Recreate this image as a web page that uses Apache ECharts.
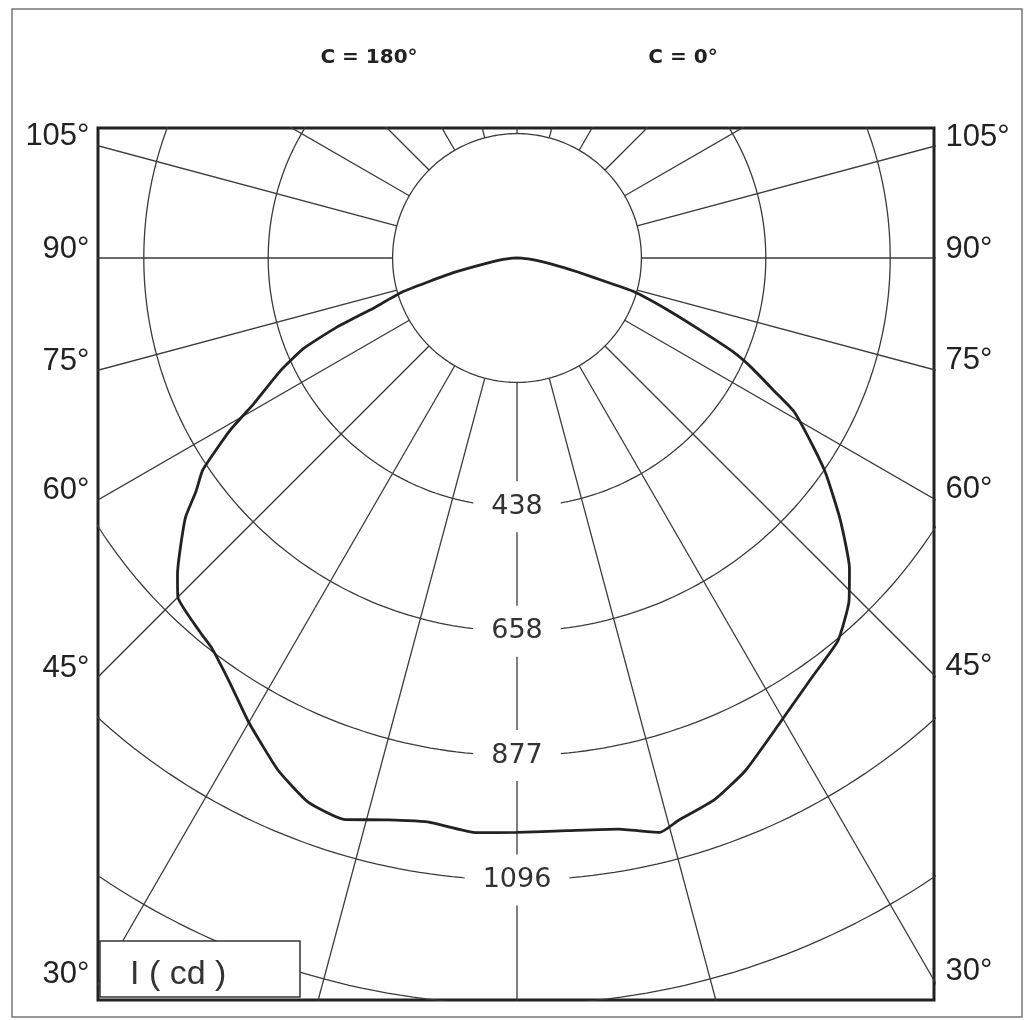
<!DOCTYPE html>
<html>
<head>
<meta charset="utf-8">
<script src="https://cdn.jsdelivr.net/npm/echarts@6/dist/echarts.min.js"></script>
<style>
  html, body { margin: 0; padding: 0; background: #fff; }
  #chart { width: 1027px; height: 1020px; }
</style>
</head>
<body>
<div id="chart"></div>
<script>
// intensity (cd) against gamma angle (deg from nadir)
const gammaC0 = [0, 5, 10, 14, 16, 20, 24, 29.5, 35, 40, 44, 47, 51, 55, 57.5, 61, 62.6, 65, 66.5, 68.5, 71, 74, 75, 77, 80, 84, 88, 90];
const intensityC0 = [1010, 1013, 1022, 1043, 1031, 1016, 989, 941, 904, 880, 842, 801, 733, 665, 619, 558, 512, 455, 416, 347, 280, 213, 165, 110, 62, 28, 8, 0];
const gammaC180 = [0, 4, 9, 13, 17, 21, 25, 30, 34, 38, 40, 45, 47, 49, 52, 54, 56, 59, 61, 64.5, 67, 69, 70.5, 73.5, 75, 77, 80, 84, 88, 90];
const intensityC180 = [1012, 1015, 1006, 1016, 1035, 1027, 996, 945, 904, 873, 865, 845, 818, 787, 741, 699, 668, 590, 531, 462, 409, 340, 275, 210, 160, 115, 55, 25, 8, 0];

const ringValues = [219.2, 438.4, 657.6, 876.8, 1096, 1315.2, 1534.4];
const ringLabels = ['438', '658', '877', '1096'];
const radialStep = 15;
const sideAngles = [105, 90, 75, 60, 45, 30];

const DEG = Math.PI / 180;
const grid = { left: 98, right: 93, top: 128, bottom: 20 };
const pxPerCd = 124.4 / 219.2;
const cx = 517, cy = 258;
const xMin = -(cx - grid.left) / pxPerCd;
const xMax = (1027 - grid.right - cx) / pxPerCd;
const yMax = (cy - grid.top) / pxPerCd;
const yMin = -(1020 - grid.bottom - cy) / pxPerCd;

const lineColor = '#3a3a3a';
const hidden = { color: 'rgba(0,0,0,0)', opacity: 1 };
const series = [];

// rings
ringValues.forEach(function (r) {
  const pts = [];
  for (let a = 0; a <= 360; a += 1) {
    pts.push([r * Math.sin(a * DEG), -r * Math.cos(a * DEG)]);
  }
  series.push({
    type: 'line', data: pts, showSymbol: false, silent: true,
    lineStyle: { color: lineColor, width: 1.3 }, z: 2
  });
});

// radial lines from the first ring outwards
for (let a = -180; a < 180; a += radialStep) {
  const r0 = ringValues[0], r1 = 2200;
  series.push({
    type: 'line', silent: true, showSymbol: false,
    data: [[r0 * Math.sin(a * DEG), -r0 * Math.cos(a * DEG)], [r1 * Math.sin(a * DEG), -r1 * Math.cos(a * DEG)]],
    lineStyle: { color: lineColor, width: 1.3 }, z: 2
  });
}

// intensity curve: C=180 on the left, C=0 on the right
const curve = [];
for (let i = gammaC180.length - 1; i >= 0; i--) {
  const g = gammaC180[i] * DEG;
  curve.push([-intensityC180[i] * Math.sin(g), -intensityC180[i] * Math.cos(g)]);
}
for (let i = 1; i < gammaC0.length; i++) {
  const g = gammaC0[i] * DEG;
  curve.push([intensityC0[i] * Math.sin(g), -intensityC0[i] * Math.cos(g)]);
}
series.push({
  type: 'line', data: curve, showSymbol: false, smooth: 0.15, silent: true,
  lineStyle: { color: '#222', width: 2.8 }, z: 5
});

// ring value labels on the nadir line
series.push({
  type: 'scatter', silent: true, symbolSize: 1, itemStyle: hidden,
  data: ringLabels.map(function (t, i) { return { value: [0, -ringValues[i + 1]], name: t }; }),
  label: {
    show: true, position: 'inside', formatter: '{b}',
    fontFamily: 'DejaVu Sans', fontSize: 27, color: '#333',
    backgroundColor: '#fff', padding: [12, 18]
  },
  z: 10
});

// angle labels where radial lines meet the frame
function sideData(edge) {
  return sideAngles.map(function (a) {
    return { value: [edge, -Math.abs(edge) / Math.tan(a * DEG)], name: a + '°' };
  });
}
const angleLabel = { show: true, formatter: '{b}', fontFamily: 'Liberation Sans', fontSize: 31, color: '#222', offset: [0, -9] };
series.push({
  type: 'scatter', silent: true, clip: false, symbolSize: 1, itemStyle: hidden,
  data: sideData(xMin),
  label: Object.assign({ position: 'left', distance: 8 }, angleLabel), z: 10
});
series.push({
  type: 'scatter', silent: true, clip: false, symbolSize: 1, itemStyle: hidden,
  data: sideData(xMax),
  label: Object.assign({ position: 'right', distance: 11 }, angleLabel), z: 10
});

const chart = echarts.init(document.getElementById('chart'));
chart.setOption({
  animation: false,
  backgroundColor: '#fff',
  grid: Object.assign({ show: true, borderColor: '#222', borderWidth: 3, backgroundColor: '#fff' }, grid),
  xAxis: { type: 'value', min: xMin, max: xMax, show: false },
  yAxis: { type: 'value', min: yMin, max: yMax, show: false },
  graphic: [
    { type: 'rect', shape: { x: 12, y: 9, width: 1010, height: 1008 }, style: { fill: 'none', stroke: '#777', lineWidth: 1.5 }, z: 0 },
    { type: 'text', x: 369, y: 58, style: { text: 'C = 180°', font: 'bold 20px "DejaVu Sans"', fill: '#222', textAlign: 'center', textVerticalAlign: 'middle' }, z: 20 },
    { type: 'text', x: 683, y: 58, style: { text: 'C = 0°', font: 'bold 20px "DejaVu Sans"', fill: '#222', textAlign: 'center', textVerticalAlign: 'middle' }, z: 20 },
    { type: 'rect', shape: { x: 100, y: 941, width: 200, height: 56 }, style: { fill: '#fff', stroke: '#333', lineWidth: 1.5 }, z: 100 },
    { type: 'text', x: 130, y: 975, style: { text: 'I ( cd )', font: '34px "Liberation Sans"', fill: '#333', textVerticalAlign: 'middle' }, z: 101 }
  ],
  series: series
});
</script>
</body>
</html>
